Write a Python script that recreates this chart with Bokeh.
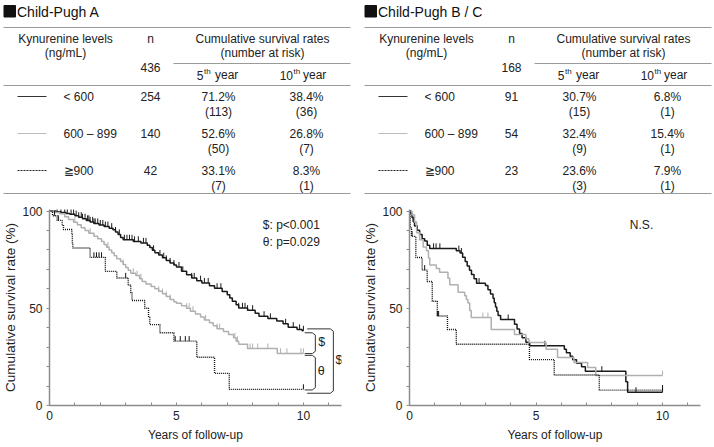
import numpy as np
from bokeh.plotting import figure
from bokeh.models import Range1d, FixedTicker, Label, PlainText
from bokeh.layouts import row, column
from bokeh.core.properties import value
from bokeh.embed import file_html
from bokeh.resources import INLINE

FONT = "Liberation Sans"

# ---------------- table data ----------------
levels = ["< 600", "600 – 899", "≧900"]

A_total = 436
A_n = [254, 140, 42]
A_rate5 = [71.2, 52.6, 33.1]
A_risk5 = [113, 50, 7]
A_rate10 = [38.4, 26.8, 8.3]
A_risk10 = [36, 7, 1]

BC_total = 168
BC_n = [91, 54, 23]
BC_rate5 = [30.7, 32.4, 23.6]
BC_risk5 = [15, 9, 3]
BC_rate10 = [6.8, 15.4, 7.9]
BC_risk10 = [1, 1, 1]

# ---------------- Kaplan-Meier data ----------------
# Child-Pugh A, < 600
A1_t = [0, 0.25, 0.45, 0.65, 0.8, 1.0, 1.15, 1.3, 1.45, 1.6, 1.75, 1.95, 2.15, 2.35, 2.5, 2.6, 2.7, 2.8, 2.9,
        3.3, 3.6, 3.85, 3.95, 4.05, 4.15, 4.3, 4.45, 4.6, 4.75, 4.9, 5.0, 5.2, 5.4, 5.6, 5.8, 6.0, 6.3, 6.5,
        6.8, 7.0, 7.1, 7.2, 7.35, 7.45, 7.8, 8.1, 8.25, 8.6, 8.95, 9.2, 9.4, 9.75, 9.95, 10.0]
A1_s = [100, 99.6, 99.2, 98.8, 98.4, 97.6, 96.8, 96.0, 95.2, 94.4, 93.6, 92.8, 92.0, 91.2, 90.4, 89.2, 88.0, 86.4, 85.2,
        84.4, 83.6, 82.4, 81.2, 79.8, 78.6, 77.4, 76.0, 74.6, 73.3, 72.2, 71.2, 69.0, 67.2, 65.6, 64.2, 63.0, 61.6, 60.3,
        58.6, 57.0, 55.3, 53.6, 51.8, 50.2, 49.0, 47.5, 45.9, 44.8, 43.4, 42.0, 40.3, 39.1, 38.4, 38.4]
A1_c = [0.3, 0.45, 0.6, 0.7, 0.85, 0.95, 1.05, 1.15, 1.25, 1.3, 1.4, 1.5, 1.55, 1.6, 1.7, 1.75, 1.8, 1.9, 2.0, 2.1,
        2.2, 2.3, 2.45, 2.6, 2.75, 2.95, 3.05, 3.15, 3.25, 3.35, 3.5, 3.7, 3.8, 4.1, 4.35, 4.5, 4.6, 4.75, 4.9,
        5.1, 5.25, 5.6, 5.7, 5.95, 6.1, 6.25, 6.6, 6.75, 7.45, 7.6, 7.7, 7.8, 8.0, 8.45, 8.7, 9.3, 9.6, 9.85, 10.0]
# Child-Pugh A, 600 - 899
A2_t = [0, 0.2, 0.4, 0.6, 0.75, 0.95, 1.1, 1.25, 1.4, 1.55, 1.75, 1.9, 2.05, 2.15, 2.25, 2.35, 2.45, 2.55, 2.65,
        2.8, 2.9, 3.0, 3.1, 3.2, 3.4, 3.55, 3.65, 3.8, 4.0, 4.15, 4.3, 4.45, 4.6, 4.75, 4.9, 5.0, 5.2, 5.4, 5.55,
        5.75, 5.95, 6.1, 6.3, 6.45, 6.6, 6.85, 7.05, 7.25, 7.35, 7.45, 7.8, 8.97, 10.0]
A2_s = [100, 99.3, 98.6, 97.1, 95.7, 94.3, 92.9, 91.4, 90.0, 88.6, 87.1, 85.7, 84.3, 82.8, 81.4, 80.0, 78.5, 77.0, 75.5,
        74.0, 72.5, 71.0, 69.5, 68.0, 66.8, 65.2, 63.8, 62.5, 61.2, 60.0, 58.8, 57.5, 56.0, 54.5, 53.3, 52.6, 51.3, 50.0, 48.5,
        47.0, 45.5, 44.0, 42.5, 41.0, 39.5, 38.0, 36.5, 34.8, 33.0, 31.5, 29.3, 26.8, 26.8]
A2_c = [1.0, 1.6, 2.3, 2.9, 3.3, 3.45, 3.6, 4.3, 4.45, 4.6, 4.75, 5.4, 5.5, 5.65, 6.15, 6.6, 6.7, 7.3, 7.4,
        7.9, 8.0, 8.2, 8.6, 9.1, 9.35, 9.9, 10.0]
# Child-Pugh A, >= 900
A3_t = [0, 0.12, 0.3, 0.5, 0.55, 0.88, 0.9, 0.92, 1.6, 2.2, 2.65, 3.1, 3.2, 3.25, 3.75, 3.9, 3.95, 4.35, 4.9,
        5.8, 6.5, 7.08, 10.0]
A3_s = [100, 97.6, 95.2, 92.9, 90.5, 88.1, 83.3, 81.0, 76.2, 69.0, 65.6, 62.0, 58.0, 54.0, 50.0, 45.8, 41.6, 37.4, 33.1,
        24.8, 16.5, 8.3, 8.3]
A3_c = [0.2, 0.35, 1.75, 1.85, 1.95, 2.05, 3.0, 4.95, 5.15, 5.35, 5.5, 10.0]

# Child-Pugh B / C, < 600
B1_t = [0, 0.05, 0.1, 0.15, 0.2, 0.3, 0.4, 0.5, 0.6, 0.7, 0.8, 1.85, 2.0, 2.1, 2.2, 2.28, 2.37, 2.45, 2.55, 2.65,
        3.0, 3.1, 3.2, 3.3, 3.35, 3.4, 3.45, 3.5, 3.6, 4.15, 4.25, 4.35, 4.45, 4.6, 4.75, 6.12, 6.2, 6.35, 6.45,
        6.6, 6.8, 6.95, 8.55, 8.62, 10.0]
B1_s = [100, 98.9, 96.7, 94.5, 92.3, 90.1, 87.9, 85.7, 84.6, 82.4, 80.8, 79.6, 78.4, 76.2, 74.0, 71.8, 69.6, 67.4, 65.2, 62.9,
        61.7, 59.5, 57.3, 55.1, 52.9, 50.7, 48.5, 46.3, 44.2, 41.8, 39.4, 37.0, 34.8, 32.5, 30.7, 28.9, 27.1, 25.3, 23.5,
        21.7, 19.9, 17.6, 12.2, 6.8, 6.8]
B1_c = [0.15, 0.3, 0.95, 1.05, 1.2, 1.95, 2.05, 2.65, 2.75, 3.9, 5.35, 7.6, 8.95, 10.0]
# Child-Pugh B / C, 600 - 899
B2_t = [0, 0.1, 0.2, 0.28, 0.4, 0.54, 0.67, 0.75, 0.8, 1.06, 1.19, 1.52, 1.59, 1.92, 2.18, 2.25, 2.31, 2.38, 2.44,
        3.23, 4.15, 4.6, 4.72, 5.4, 5.85, 6.5, 7.04, 7.36, 10.0]
B2_s = [100, 98.1, 94.4, 88.9, 85.2, 81.5, 79.6, 75.9, 72.2, 70.4, 68.5, 65.5, 62.1, 58.2, 56.4, 54.5, 52.7, 48.8, 45.2,
        39.1, 36.5, 34.3, 32.4, 28.9, 24.7, 22.1, 19.5, 15.4, 15.4]
B2_c = [0.2, 2.9, 3.1, 10.0]
# Child-Pugh B / C, >= 900
B3_t = [0, 0.03, 0.08, 0.25, 0.5, 0.7, 0.9, 1.1, 1.5, 1.85, 4.74, 5.72, 7.5, 10.0]
B3_s = [100, 91.3, 87.0, 76.1, 69.6, 63.8, 53.6, 46.0, 39.1, 31.5, 23.6, 15.7, 7.9, 7.9]
B3_c = [0.1, 0.6, 1.1, 1.15, 10.0]

TXT = "#222222"
AXC = "#8c8c8c"
STYLES = [dict(line_color="#1a1a1a", line_width=1.5),
          dict(line_color="#b0b0b0", line_width=1.5),
          dict(line_color="#111111", line_width=1.4, line_dash="1 1")]
SAMPLE = [dict(line_color="#333333", line_width=1.2),
          dict(line_color="#bbbbbb", line_width=1.2),
          dict(line_color="#222222", line_width=1.2, line_dash="2 1")]

TABLE_H = 199
KM_H = 248


def table_fig(title, total, n, r5, k5, r10, k10, x0, width):
    p = figure(width=width, height=TABLE_H, x_range=Range1d(x0, x0 + width), y_range=Range1d(TABLE_H, 0),
               x_axis_location=None, y_axis_location=None, min_border=0, frame_align=False,
               toolbar_location=None, output_backend="svg")
    p.outline_line_color = None
    p.xgrid.visible = False
    p.ygrid.visible = False

    p.segment(x0=[3, 173, 3, 3], y0=[27, 63, 85, 193], x1=[350, 350, 350, 350], y1=[27, 63, 85, 193],
              line_color="#9a9a9a", line_width=1.2)
    p.quad(left=[3.5], right=[15], top=[5], bottom=[16.5], color="#111111")
    p.text(x=[16.5], y=[11], text=[title], text_font=value(FONT), text_font_size="14px",
           text_baseline="middle", text_color="#111111")

    def txt(xs, ys, ts, align="center", size="12px"):
        p.text(x=xs, y=ys, text=ts, text_font=value(FONT), text_font_size=size,
               text_align=align, text_baseline="middle", text_color=TXT)

    txt([65, 65, 150, 262, 262, 150], [38, 52, 38, 38, 52, 67],
        ["Kynurenine levels", "(ng/mL)", "n", "Cumulative survival rates", "(number at risk)", str(total)])
    txt([203], [74.5], ["5"], "right")
    txt([203.5], [71], ["th"], "left", "8px")
    txt([214.5], [74.5], ["year"], "left")
    txt([292.5], [74.5], ["10"], "right")
    txt([293], [71], ["th"], "left", "8px")
    txt([302.5], [74.5], ["year"], "left")

    rows_y = [96, 133, 170]
    for i, yy in enumerate(rows_y):
        p.line(x=[17, 46], y=[yy, yy], **SAMPLE[i])
    txt([63] * 3, rows_y, levels, "left")
    txt([150] * 3, rows_y, [str(v) for v in n])
    txt([218] * 3, rows_y, [f"{v:.1f}%" for v in r5])
    txt([218] * 3, [y + 15 for y in rows_y], [f"({v})" for v in k5])
    txt([306] * 3, rows_y, [f"{v:.1f}%" for v in r10])
    txt([306] * 3, [y + 15 for y in rows_y], [f"({v})" for v in k10])
    return p


def km_fig(width, bl, br, curves):
    p = figure(width=width, height=KM_H, x_range=Range1d(0, 11.5), y_range=Range1d(0, 100.8),
               min_border_left=bl, min_border_right=br, min_border_top=10, min_border_bottom=42,
               frame_align=False, toolbar_location=None, output_backend="svg")
    p.outline_line_color = None
    p.xgrid.visible = False
    p.ygrid.visible = False
    for ax in (p.xaxis[0], p.yaxis[0]):
        ax.axis_line_color = AXC
        ax.axis_line_width = 1.5
        ax.major_tick_line_color = AXC
        ax.minor_tick_line_color = AXC
        ax.major_label_text_font = FONT
        ax.major_label_text_font_size = "12px"
        ax.major_label_text_color = TXT
        ax.axis_label_text_font = FONT
        ax.axis_label_text_font_size = "12px"
        ax.axis_label_text_font_style = "normal"
        ax.axis_label_text_color = TXT
    p.xaxis.major_label_standoff = 5
    p.xaxis.axis_label_standoff = 5
    p.yaxis.major_label_standoff = 4
    p.yaxis.axis_label_standoff = 1
    p.yaxis.axis_label_text_font_size = "13.5px"
    p.xaxis.ticker = FixedTicker(ticks=[0, 5, 10], minor_ticks=[1, 2, 3, 4, 6, 7, 8, 9, 11])
    p.xaxis.major_tick_in = 3
    p.xaxis.major_tick_out = 0
    p.xaxis.minor_tick_in = 3
    p.xaxis.minor_tick_out = 0
    p.xaxis.axis_label = "Years of follow-up"
    p.yaxis.ticker = FixedTicker(ticks=[0, 50, 100], minor_ticks=[10, 20, 30, 40, 60, 70, 80, 90])
    p.yaxis.major_tick_in = 0
    p.yaxis.major_tick_out = 3
    p.yaxis.minor_tick_in = 0
    p.yaxis.minor_tick_out = 3
    p.yaxis.axis_label = "Cumulative survival rate (%)"

    for (t, s, c), st in zip(curves, STYLES):
        p.step(x=t, y=s, mode="after", **st)
        t_arr = np.asarray(t)
        s_arr = np.asarray(s)
        idx = np.searchsorted(t_arr, np.asarray(c), side="right") - 1
        cv = s_arr[idx]
        p.segment(x0=c, y0=cv, x1=c, y1=cv + 2.6, line_color=st["line_color"], line_width=1)
    return p


def lbl(p, xs, ys, ts, align="left", size="12px"):
    p.text(x=xs, y=ys, text=ts, text_font=value(FONT), text_font_size=size,
           text_align=align, text_baseline="middle", text_color=TXT)


def plain_label(p, x, y, t, size="12.5px"):
    p.add_layout(Label(x=x, y=y, text=PlainText(text=t), text_font=FONT, text_font_size=size,
                       text_align="center", text_baseline="middle", text_color=TXT))


def bracket(p, x0, x1, yt, yb):
    dx, dy = 0.12, 1.2
    p.line(x=[x0, x1 - dx, x1, x1, x1 - dx, x0], y=[yt, yt, yt - dy, yb + dy, yb, yb],
           line_color="#333333", line_width=1)


tA = table_fig("Child-Pugh A", A_total, A_n, A_rate5, A_risk5, A_rate10, A_risk10, 0, 360)
tB = table_fig("Child-Pugh B / C", BC_total, BC_n, BC_rate5, BC_risk5, BC_rate10, BC_risk10, -1, 354)

kA = km_fig(360, 48, 19, [(A1_t, A1_s, A1_c), (A2_t, A2_s, A2_c), (A3_t, A3_s, A3_c)])
kB = km_fig(354, 48, 14, [(B1_t, B1_s, B1_c), (B2_t, B2_s, B2_c), (B3_t, B3_s, B3_c)])

# annotations
lbl(kA, [8.4, 8.4], [92.9, 84.2], ["$: p<0.001", "θ: p=0.029"])
e1, e2, e3 = A1_s[-1], A2_s[-1], A3_s[-1]
bracket(kA, 10.05, 10.47, e1 - 1.0, e2 - 0.1)
bracket(kA, 10.05, 10.47, e2 - 1.0, e3 - 0.3)
bracket(kA, 10.15, 11.18, e1 + 1.0, e3 - 2.0)
plain_label(kA, 10.72, (e1 + e2) / 2, "$")
plain_label(kA, 10.7, (e2 + e3) / 2, "θ")
plain_label(kA, 11.4, (e1 + e3) / 2, "$")
lbl(kB, [9.17], [92.9], ["N.S."], "center", "12px")

layout = row(column(tA, kA), column(tB, kB))

open("out.html", "w").write(file_html(layout, INLINE))
